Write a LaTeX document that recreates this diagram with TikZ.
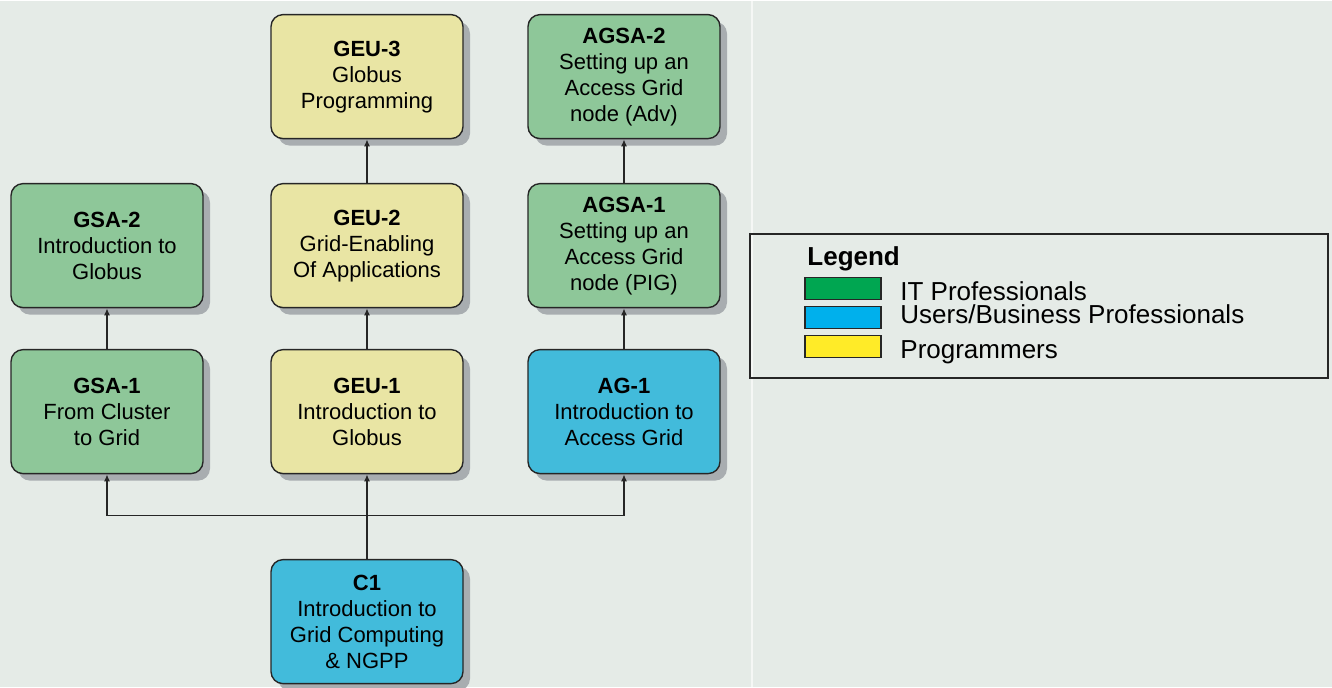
\documentclass[tikz,border=0pt]{standalone}
\usepackage{fontspec}
\setmainfont{Liberation Sans}
\usetikzlibrary{arrows.meta,shadows}

\definecolor{bgcol}{RGB}{229,235,231}
\definecolor{shadowcol}{RGB}{168,173,176}
\definecolor{itcol}{RGB}{142,199,153}
\definecolor{usercol}{RGB}{66,187,219}
\definecolor{progcol}{RGB}{233,229,164}
\definecolor{itsw}{RGB}{0,166,81}
\definecolor{usersw}{RGB}{0,176,236}
\definecolor{progsw}{RGB}{255,235,40}

\begin{document}
\begin{tikzpicture}[x=0.5pt, y=-0.5pt,
	course/.style={rectangle, rounded corners=6pt, draw=black!85, line width=0.7pt, minimum width=96pt, minimum height=62pt, inner sep=2pt, align=center, font=\fontsize{11}{13}\selectfont, drop shadow={shadow xshift=3.5pt, shadow yshift=-3.5pt, fill=shadowcol, opacity=1}},
	itbox/.style={course, fill=itcol},
	userbox/.style={course, fill=usercol},
	progbox/.style={course, fill=progcol},
	link/.style={draw=black!85, line width=0.7pt, -{Latex[length=3.5pt,width=3pt]}},
	swatch/.style={rectangle, draw=black!85, line width=0.8pt, minimum width=38pt, minimum height=11pt, inner sep=0pt},
	legtext/.style={anchor=base west, inner sep=0pt, font=\fontsize{13}{15}\selectfont}]
				\fill[bgcol] (0,0) rectangle (1332,686);
				\draw[white!60!bgcol, line width=0.6pt] (752,0) -- (752,686);
				\useasboundingbox (0,0) rectangle (1332,686);
				
				\node[progbox] (geu3) at (367,76) {\textbf{GEU-3}\\Globus\\Programming};
				\node[itbox] (agsa2) at (624,76) {\textbf{AGSA-2}\\Setting up an\\Access Grid\\node (Adv)};
				\node[itbox] (gsa2) at (107,245) {\textbf{GSA-2}\\Introduction to\\Globus};
				\node[progbox] (geu2) at (367,245) {\textbf{GEU-2}\\Grid-Enabling\\Of Applications};
				\node[itbox] (agsa1) at (624,245) {\textbf{AGSA-1}\\Setting up an\\Access Grid\\node (PIG)};
				\node[itbox] (gsa1) at (107,411) {\textbf{GSA-1}\\From Cluster\\to Grid};
				\node[progbox] (geu1) at (367,411) {\textbf{GEU-1}\\Introduction to\\Globus};
				\node[userbox] (ag1) at (624,411) {\textbf{AG-1}\\Introduction to\\Access Grid};
				\node[userbox] (c1) at (367,621) {\textbf{C1}\\Introduction to\\Grid Computing\\\& NGPP};
				
				\coordinate (fork) at (367,515);
				
				\path (gsa1) edge[link] (gsa2);
				\path (geu1) edge[link] (geu2);
				\path (geu2) edge[link] (geu3);
				\path (ag1) edge[link] (agsa1);
				\path (agsa1) edge[link] (agsa2);
				\path (c1) edge[link] (geu1);
				\draw[link] (fork) -| (gsa1);
				\draw[link] (fork) -| (ag1);
				
				% legend
				\node[draw=black!85, line width=1pt, minimum width=289pt, minimum height=72pt, inner sep=0pt] (legend) at (1039,305) {};
				\node[legtext, font=\fontsize{13}{15}\selectfont\bfseries] (legtitle) at (807,265) {Legend};
				\node[swatch, fill=itsw] (swit) at (843,288) {};
				\node[swatch, fill=usersw] (swuser) at (843,317) {};
				\node[swatch, fill=progsw] (swprog) at (843,346) {};
				\node[legtext] (txtit) at (900,300) {IT Professionals};
				\node[legtext] (txtuser) at (900,323) {Users/Business Professionals};
				\node[legtext] (txtprog) at (900,358) {Programmers};
				\end{tikzpicture}
\end{document}
